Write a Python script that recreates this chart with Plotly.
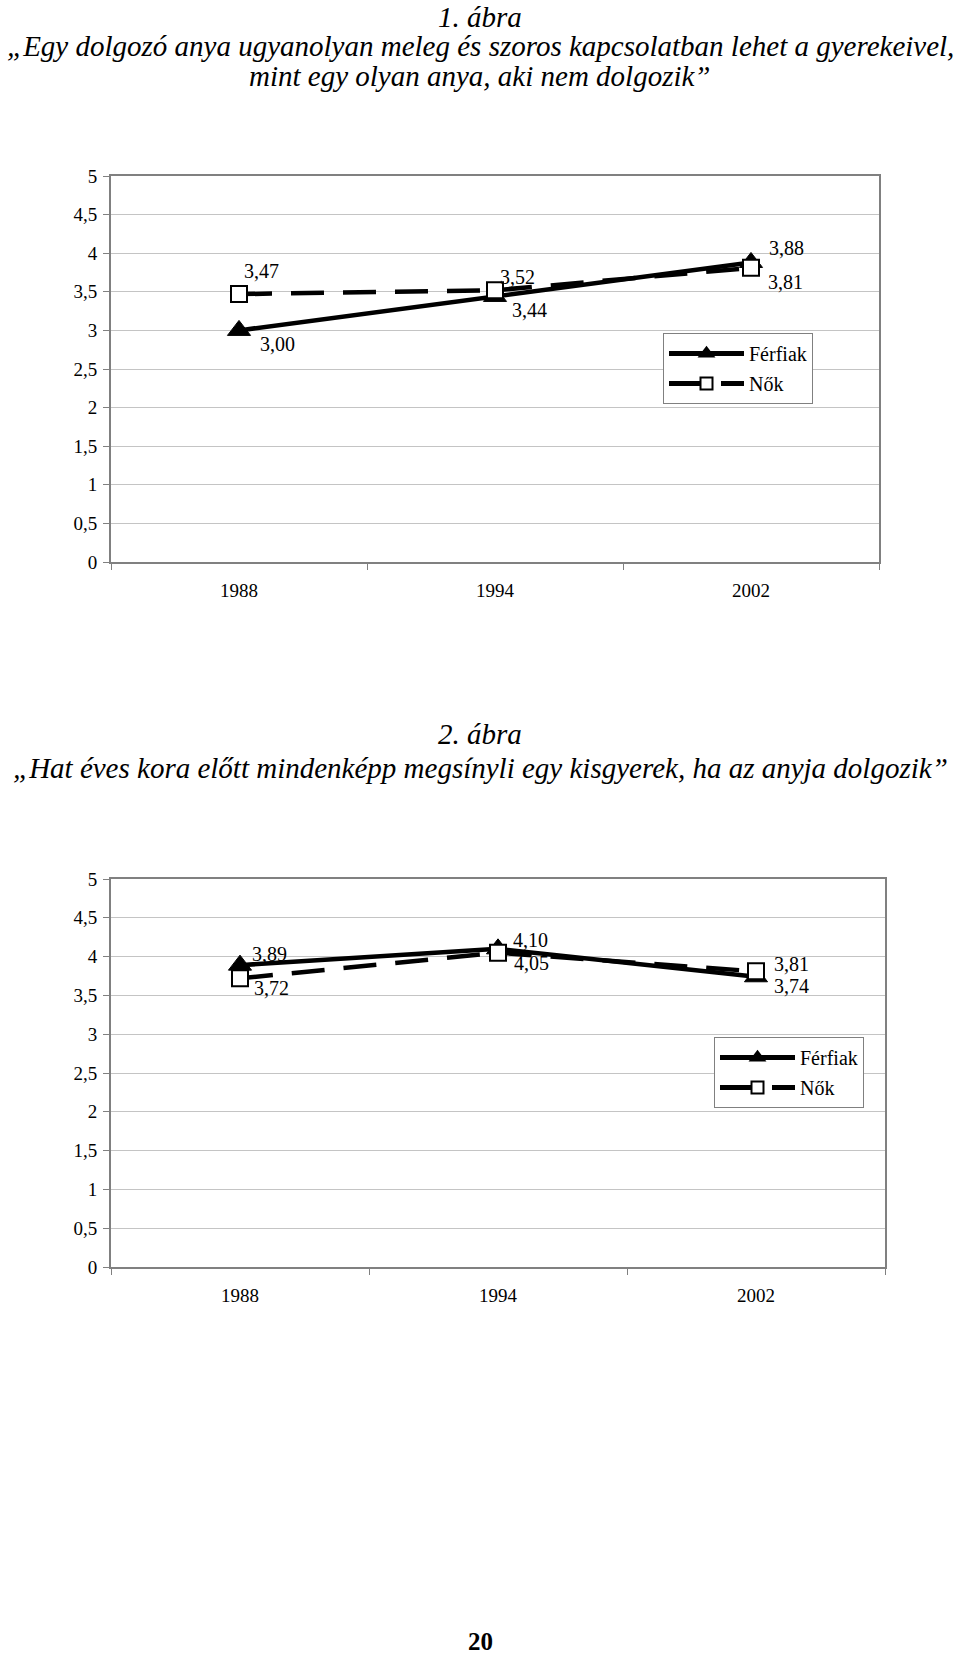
import plotly.graph_objects as go

# ---------------- data ----------------
years = ["1988", "1994", "2002"]
series_names = ["Férfiak", "Nők"]

chart1_ferfiak = [3.00, 3.44, 3.88]
chart1_nok = [3.47, 3.52, 3.81]

chart2_ferfiak = [3.89, 4.10, 3.74]
chart2_nok = [3.72, 4.05, 3.81]

chart1_title = ["1. ábra",
                "„Egy dolgozó anya ugyanolyan meleg és szoros kapcsolatban lehet a gyerekeivel,",
                "mint egy olyan anya, aki nem dolgozik”"]
chart2_title = ["2. ábra",
                "„Hat éves kora előtt mindenképp megsínyli egy kisgyerek, ha az anyja dolgozik”"]
page_number = "20"

y_ticks = [0, 0.5, 1, 1.5, 2, 2.5, 3, 3.5, 4, 4.5, 5]

# ---------------- style ----------------
W, H = 960, 1656
SERIF = "Liberation Serif"
FRAME = "#808080"
GRID = "#c4c4c4"

# label offsets (px) per point: (xshift, yshift)
c1_f_shift = [(20, -14), (16, -14), (17, 14)]
c1_n_shift = [(4, 23), (4, 13), (16, -14)]
c2_f_shift = [(11, 11), (14, 9), (17, -9)]
c2_n_shift = [(13, -10), (15, -10), (17, 7)]


def py(px):
    return 1 - px / H


fig = go.Figure()

line_f = dict(color="black", width=4.5)
line_n = dict(color="black", width=4.5, dash="33px,19px")
mk_f = dict(symbol="triangle-up", size=20, color="black", line=dict(color="black", width=1))
mk_n = dict(symbol="square", size=16, color="white", line=dict(color="black", width=2))

# chart 1
fig.add_trace(go.Scatter(x=years, y=chart1_ferfiak, name=series_names[0], mode="lines+markers",
                         line=line_f, marker=mk_f, xaxis="x", yaxis="y",
                         legend="legend", legendgroup="a1"))
fig.add_trace(go.Scatter(x=years, y=chart1_nok, name=series_names[1], mode="lines+markers",
                         line=line_n, marker=mk_n, xaxis="x", yaxis="y",
                         legend="legend", legendgroup="b1"))
# chart 2
fig.add_trace(go.Scatter(x=years, y=chart2_ferfiak, name=series_names[0], mode="lines+markers",
                         line=line_f, marker=mk_f, xaxis="x2", yaxis="y2",
                         legend="legend2", legendgroup="a2"))
fig.add_trace(go.Scatter(x=years, y=chart2_nok, name=series_names[1], mode="lines+markers",
                         line=line_n, marker=mk_n, xaxis="x2", yaxis="y2",
                         legend="legend2", legendgroup="b2"))

annotations = []


def add_labels(vals, shifts, xref, yref):
    for i, (v, (dx, dy)) in enumerate(zip(vals, shifts)):
        annotations.append(dict(x=i, y=v, xref=xref, yref=yref,
                                text=f"{v:.2f}".replace(".", ","), showarrow=False,
                                xanchor="left", yanchor="middle", xshift=dx, yshift=dy,
                                borderpad=0,
                                font=dict(family=SERIF, size=20, color="black")))


add_labels(chart1_ferfiak, c1_f_shift, "x", "y")
add_labels(chart1_nok, c1_n_shift, "x", "y")
add_labels(chart2_ferfiak, c2_f_shift, "x2", "y2")
add_labels(chart2_nok, c2_n_shift, "x2", "y2")

title_font = dict(family=SERIF, size=29, color="black", style="italic")
# first line anchored to the top edge so it is not clipped
annotations.append(dict(x=0.5, y=1, xref="paper", yref="paper", text=chart1_title[0],
                        showarrow=False, xanchor="center", yanchor="top", borderpad=0,
                        font=title_font))
for txt, ypx in zip(chart1_title[1:], [46, 76]):
    annotations.append(dict(x=0.5, y=py(ypx), xref="paper", yref="paper", text=txt,
                            showarrow=False, xanchor="center", yanchor="middle", font=title_font))
for txt, ypx in zip(chart2_title, [734, 768]):
    annotations.append(dict(x=0.5, y=py(ypx), xref="paper", yref="paper", text=txt,
                            showarrow=False, xanchor="center", yanchor="middle", font=title_font))
# page number anchored to the bottom edge
annotations.append(dict(x=0.5, y=0, xref="paper", yref="paper", text="<b>" + page_number + "</b>",
                        showarrow=False, xanchor="center", yanchor="bottom", borderpad=0,
                        font=dict(family=SERIF, size=25, color="black")))


def xaxis(domain):
    return dict(domain=domain, type="category", categoryarray=years, categoryorder="array",
                range=[-0.5, 2.5], showgrid=False, showline=True, linecolor=FRAME, linewidth=2,
                mirror=True, ticks="outside", tickson="boundaries", ticklen=6, tickcolor=FRAME,
                tickwidth=1, tickfont=dict(family=SERIF, size=19, color="black"),
                ticklabelstandoff=10, zeroline=False, fixedrange=True, automargin=False)


def yaxis(domain, anchor):
    return dict(domain=domain, anchor=anchor, range=[0, 5], tickmode="array", tickvals=y_ticks,
                showgrid=True, gridcolor=GRID, gridwidth=1, showline=True, linecolor=FRAME,
                linewidth=2, mirror=True, ticks="outside", ticklen=6, tickcolor=FRAME, tickwidth=1,
                tickfont=dict(family=SERIF, size=19, color="black"), ticklabelstandoff=2,
                zeroline=False, fixedrange=True, automargin=False)


legend_common = dict(xanchor="left", yanchor="top", bgcolor="white", bordercolor=FRAME,
                     borderwidth=1, font=dict(family=SERIF, size=20, color="black"),
                     itemwidth=75, itemsizing="constant", tracegroupgap=1, orientation="v")

fig.update_layout(
    width=W, height=H, margin=dict(l=0, r=0, t=0, b=0, pad=0, autoexpand=False),
    paper_bgcolor="white", plot_bgcolor="white",
    separators=", ",
    font=dict(family=SERIF, color="black"),
    showlegend=True,
    xaxis=xaxis([111 / W, 879 / W]) | dict(anchor="y"),
    yaxis=yaxis([py(562), py(176)], "x"),
    xaxis2=xaxis([111 / W, 885 / W]) | dict(anchor="y2"),
    yaxis2=yaxis([py(1267), py(879)], "x2"),
    legend=dict(x=663 / W, y=py(333), **legend_common),
    legend2=dict(x=714 / W, y=py(1037), **legend_common),
    annotations=annotations,
)

fig.write_html(
    "out.html",
    config={"displayModeBar": False},
    post_script=(
        "document.body.style.margin='0';"
        "var d=document.getElementById('{plot_id}');"
        "d.style.position='absolute';d.style.left='0px';d.style.top='0px';"
    ),
)
